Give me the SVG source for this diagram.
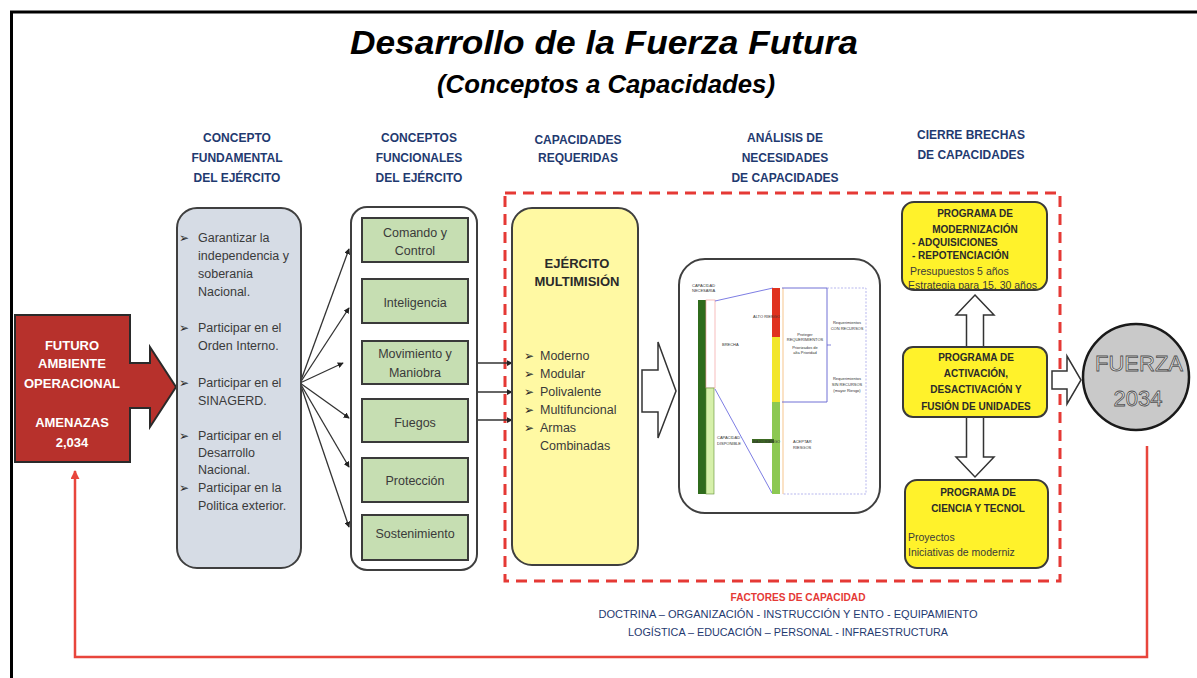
<svg xmlns="http://www.w3.org/2000/svg" width="1197" height="678" viewBox="0 0 1197 678">
<defs>
<style>
text{font-family:"Liberation Sans",Arial,sans-serif;}
.hd{font-size:12px;font-weight:bold;fill:#1F3A70;text-anchor:middle;}
.bt{font-size:12.5px;fill:#3A3A3A;}
.gt{font-size:12.5px;fill:#3A3A3A;text-anchor:middle;}
.bl{font-family:"DejaVu Sans",sans-serif;font-size:12px;font-weight:bold;fill:#2A2A2A;}
.yb{font-size:10px;font-weight:bold;fill:#2A2A2A;text-anchor:middle;}
.yl{font-size:10px;font-weight:bold;fill:#2A2A2A;}
.yn{font-size:10.5px;fill:#3A3A3A;}
.tiny{font-size:4px;fill:#333;}
.conn{stroke:#333;stroke-width:1.3;fill:none;}
.hollow{fill:#fff;stroke:#333;stroke-width:1.5;stroke-linejoin:miter;}
.gbox{fill:#C6DEB2;stroke:#3A3A3A;stroke-width:2;}
</style>
<marker id="ah" viewBox="0 0 8 8" refX="7" refY="4" markerWidth="6" markerHeight="6" markerUnits="userSpaceOnUse" orient="auto">
<path d="M0,0 L8,4 L0,8 Z" fill="#222"/>
</marker>
<marker id="rh" viewBox="0 0 10 10" refX="9" refY="5" markerWidth="9" markerHeight="9" markerUnits="userSpaceOnUse" orient="auto">
<path d="M0,0 L10,5 L0,10 Z" fill="#E8453C"/>
</marker>
</defs>
<rect x="0" y="0" width="1197" height="678" fill="#fff"/>
<!-- frame -->
<path d="M11.5,678 V12 H1197" fill="none" stroke="#000" stroke-width="3"/>

<!-- titles -->
<text x="604" y="54" text-anchor="middle" font-size="34" font-weight="bold" font-style="italic" fill="#000" textLength="508" lengthAdjust="spacingAndGlyphs">Desarrollo de la Fuerza Futura</text>
<text x="606" y="93" text-anchor="middle" font-size="25" font-weight="bold" font-style="italic" fill="#000" textLength="338" lengthAdjust="spacingAndGlyphs">(Conceptos a Capacidades)</text>

<!-- column headings -->
<g id="headings">
<text class="hd" x="237" y="142">CONCEPTO</text>
<text class="hd" x="237" y="162">FUNDAMENTAL</text>
<text class="hd" x="237" y="182">DEL EJÉRCITO</text>
<text class="hd" x="419" y="142">CONCEPTOS</text>
<text class="hd" x="419" y="162">FUNCIONALES</text>
<text class="hd" x="419" y="182">DEL EJÉRCITO</text>
<text class="hd" x="578" y="144">CAPACIDADES</text>
<text class="hd" x="578" y="162">REQUERIDAS</text>
<text class="hd" x="785" y="142">ANÁLISIS DE</text>
<text class="hd" x="785" y="162">NECESIDADES</text>
<text class="hd" x="785" y="182">DE CAPACIDADES</text>
<text class="hd" x="971" y="139">CIERRE BRECHAS</text>
<text class="hd" x="971" y="159">DE CAPACIDADES</text>
</g>

<!-- red dashed frame -->
<rect id="capacity-frame" x="505" y="193" width="555" height="388" fill="none" stroke="#E53935" stroke-width="3" stroke-dasharray="11,7"/>

<!-- connectors -->
<g id="connectors">
<line class="conn" x1="300" y1="383" x2="349" y2="249" marker-end="url(#ah)"/>
<line class="conn" x1="300" y1="383" x2="349" y2="308" marker-end="url(#ah)"/>
<line class="conn" x1="300" y1="383" x2="343" y2="363" marker-end="url(#ah)"/>
<line class="conn" x1="300" y1="383" x2="349" y2="418" marker-end="url(#ah)"/>
<line class="conn" x1="300" y1="383" x2="349" y2="467" marker-end="url(#ah)"/>
<line class="conn" x1="300" y1="383" x2="349" y2="527" marker-end="url(#ah)"/>
<line class="conn" x1="477" y1="363" x2="512" y2="363" marker-end="url(#ah)"/>
<line class="conn" x1="477" y1="392" x2="512" y2="392" marker-end="url(#ah)"/>
<line class="conn" x1="477" y1="420" x2="512" y2="420" marker-end="url(#ah)"/>
<polygon class="hollow" points="642,370 658,370 658,342 676,391 658,438 658,412 642,412"/>
<polygon class="hollow" points="975,295 994,315 983.5,315 983.5,457 994,457 975,477 956,457 966.5,457 966.5,315 956,315"/>
<polygon class="hollow" points="1052,371 1067,371 1067,356 1081,380 1067,404 1067,389 1052,389"/>
<polyline points="1147,446 1147,657 75,657 75,471" fill="none" stroke="#E8453C" stroke-width="2.5" marker-end="url(#rh)"/>
</g>

<!-- future environment -->
<g id="futuro">
<path d="M15,315 H130 V363 H150 V347 L176,387 L150,427 V408 H130 V462 H15 Z" fill="#B7312C" stroke="#2A2A2A" stroke-width="2"/>
<g font-size="13" font-weight="bold" fill="#fff" text-anchor="middle">
<text x="72" y="350">FUTURO</text>
<text x="72" y="368">AMBIENTE</text>
<text x="72" y="388">OPERACIONAL</text>
<text x="72" y="427">AMENAZAS</text>
<text x="72" y="447">2,034</text>
</g>
</g>

<!-- concepto fundamental -->
<g id="concepto-fundamental">
<rect x="177" y="208" width="124" height="360" rx="20" fill="#D6DCE5" stroke="#3F3F3F" stroke-width="2"/>
<text class="bl" x="179" y="241.5">➢</text>
<text class="bt" x="198" y="241.5">Garantizar la</text>
<text class="bt" x="198" y="259.5">independencia y</text>
<text class="bt" x="198" y="277.5">soberania</text>
<text class="bt" x="198" y="295.5">Nacional.</text>
<text class="bl" x="179" y="331.5">➢</text>
<text class="bt" x="198" y="331.5">Participar en el</text>
<text class="bt" x="198" y="349.5">Orden Interno.</text>
<text class="bl" x="179" y="386.5">➢</text>
<text class="bt" x="198" y="386.5">Participar en el</text>
<text class="bt" x="198" y="404.5">SINAGERD.</text>
<text class="bl" x="179" y="439.5">➢</text>
<text class="bt" x="198" y="439.5">Participar en el</text>
<text class="bt" x="198" y="456.5">Desarrollo</text>
<text class="bt" x="198" y="473.5">Nacional.</text>
<text class="bl" x="179" y="491.5">➢</text>
<text class="bt" x="198" y="491.5">Participar en la</text>
<text class="bt" x="198" y="509.5">Politica exterior.</text>
</g>

<!-- conceptos funcionales -->
<g id="conceptos-funcionales">
<rect x="351" y="207" width="126" height="363" rx="16" fill="#fff" stroke="#3F3F3F" stroke-width="2"/>
</g>
<g id="comando-control">
<rect class="gbox" x="362" y="218" width="106" height="44"/>
<text class="gt" x="415" y="236.5">Comando y</text>
<text class="gt" x="415" y="254.5">Control</text>
</g>
<g id="inteligencia">
<rect class="gbox" x="362" y="279" width="106" height="44"/>
<text class="gt" x="415" y="306.5">Inteligencia</text>
</g>
<g id="movimiento">
<rect class="gbox" x="362" y="341" width="106" height="43"/>
<text class="gt" x="415" y="357.5">Movimiento y</text>
<text class="gt" x="415" y="376.5">Maniobra</text>
</g>
<g id="fuegos">
<rect class="gbox" x="362" y="399" width="106" height="43"/>
<text class="gt" x="415" y="426.5">Fuegos</text>
</g>
<g id="proteccion">
<rect class="gbox" x="362" y="458" width="106" height="44"/>
<text class="gt" x="415" y="484.5">Protección</text>
</g>
<g id="sostenimiento">
<rect class="gbox" x="362" y="515" width="106" height="45"/>
<text class="gt" x="415" y="537.5">Sostenimiento</text>
</g>

<!-- ejercito multimision -->
<g id="ejercito-multimision">
<rect x="512" y="208" width="126" height="357" rx="20" fill="#FFF9A3" stroke="#3F3F3F" stroke-width="2"/>
<text x="577" y="267.5" font-size="13" font-weight="bold" fill="#2A2A2A" text-anchor="middle">EJÉRCITO</text>
<text x="577" y="285.5" font-size="13" font-weight="bold" fill="#2A2A2A" text-anchor="middle">MULTIMISIÓN</text>
<text class="bl" x="524" y="359.5">➢</text><text class="bt" x="540" y="359.5">Moderno</text>
<text class="bl" x="524" y="377.5">➢</text><text class="bt" x="540" y="377.5">Modular</text>
<text class="bl" x="524" y="395.5">➢</text><text class="bt" x="540" y="395.5">Polivalente</text>
<text class="bl" x="524" y="413.5">➢</text><text class="bt" x="540" y="413.5">Multifuncional</text>
<text class="bl" x="524" y="431.5">➢</text><text class="bt" x="540" y="431.5">Armas</text>
<text class="bt" x="540" y="449.5">Combinadas</text>
</g>

<!-- analisis chart -->
<g id="analisis">
<rect x="679" y="259" width="201" height="254" rx="26" fill="#fff" stroke="#3F3F3F" stroke-width="2"/>
<rect x="698" y="300" width="9" height="194" fill="#2F6B1C"/>
<rect x="706" y="300" width="9" height="88" fill="#fff" stroke="#F2A0A0" stroke-width="0.7"/>
<rect x="706" y="388" width="8" height="106" fill="#D6F0AA" stroke="#5E8E34" stroke-width="0.6"/>
<text class="tiny" x="692" y="287">CAPACIDAD</text>
<text class="tiny" x="692" y="292">NECESARIA</text>
<text class="tiny" x="722" y="346">BRECHA</text>
<text class="tiny" x="717" y="439">CAPACIDAD</text>
<text class="tiny" x="717" y="445">DISPONIBLE</text>
<line x1="715" y1="301" x2="773" y2="288" stroke="#6E6EE0" stroke-width="0.9"/>
<line x1="715" y1="389" x2="772" y2="493" stroke="#6E6EE0" stroke-width="0.9"/>
<rect x="772" y="288" width="8" height="49" fill="#E0321F"/>
<rect x="772" y="337" width="8" height="65" fill="#F2E62A"/>
<rect x="772" y="402" width="8" height="92" fill="#8CC852"/>
<line x1="783" y1="288" x2="783" y2="494" stroke="#F0A040" stroke-width="0.6"/>
<text class="tiny" x="753" y="318">ALTO RIESGO</text>
<rect x="752" y="439" width="22" height="4" fill="#3D6A22"/>
<text class="tiny" x="753" y="442.5" fill="#fff">BAJO RIESGO</text>
<path d="M782,288 H827 V402 H782" fill="none" stroke="#6060D0" stroke-width="0.9"/>
<line x1="827" y1="345" x2="831" y2="345" stroke="#6060D0" stroke-width="0.8"/>
<path d="M827,288 H866 V494 H783" fill="none" stroke="#9A9AE6" stroke-width="0.7" stroke-dasharray="2,1.5"/>
<text class="tiny" x="805" y="336" text-anchor="middle">Proteger</text>
<text class="tiny" x="805" y="341" text-anchor="middle">REQUERIMIENTOS</text>
<text class="tiny" x="805" y="349" text-anchor="middle">Priorizados de</text>
<text class="tiny" x="805" y="354" text-anchor="middle">alta Prioridad</text>
<text class="tiny" x="847" y="324" text-anchor="middle">Requerimientos</text>
<text class="tiny" x="847" y="330" text-anchor="middle">CON RECURSOS</text>
<text class="tiny" x="847" y="380" text-anchor="middle">Requerimientos</text>
<text class="tiny" x="847" y="386" text-anchor="middle">SIN RECURSOS</text>
<text class="tiny" x="847" y="392" text-anchor="middle">(mayor Riesgo)</text>
<text class="tiny" x="793" y="443">ACEPTAR</text>
<text class="tiny" x="793" y="449">RIESGOS</text>
</g>

<!-- programs -->
<g id="programa-modernizacion">
<rect x="902" y="202" width="145" height="88" rx="12" fill="#FFF22B" stroke="#3A3A3A" stroke-width="2"/>
<text class="yb" x="975" y="217">PROGRAMA DE</text>
<text class="yb" x="975" y="233">MODERNIZACIÓN</text>
<text class="yl" x="912" y="246">- ADQUISICIONES</text>
<text class="yl" x="912" y="259">- REPOTENCIACIÓN</text>
<text class="yn" x="910" y="275">Presupuestos 5 años</text>
<text class="yn" x="908" y="289">Estrategia para 15, 30 años</text>
</g>
<g id="programa-activacion">
<rect x="903" y="347" width="144" height="70" rx="10" fill="#FFF22B" stroke="#3A3A3A" stroke-width="2"/>
<text class="yb" x="976" y="361">PROGRAMA DE</text>
<text class="yb" x="976" y="377">ACTIVACIÓN,</text>
<text class="yb" x="976" y="393">DESACTIVACIÓN Y</text>
<text class="yb" x="976" y="410">FUSIÓN DE UNIDADES</text>
</g>
<g id="programa-ciencia">
<rect x="905" y="480" width="143" height="88" rx="12" fill="#FFF22B" stroke="#3A3A3A" stroke-width="2"/>
<text class="yb" x="978" y="496">PROGRAMA DE</text>
<text class="yb" x="978" y="512">CIENCIA Y TECNOL</text>
<text class="yn" x="908" y="541">Proyectos</text>
<text class="yn" x="908" y="556">Iniciativas de moderniz</text>
</g>

<!-- fuerza 2034 -->
<g id="fuerza-2034">
<circle cx="1136" cy="377" r="53" fill="#C9C9C9" stroke="#1A1A1A" stroke-width="2.5"/>
<g font-size="22" fill="#E4E4E4" stroke="#505050" stroke-width="0.8" text-anchor="middle">
<text x="1139" y="371">FUERZA</text>
<text x="1138" y="406">2034</text>
</g>
</g>

<!-- factores -->
<g id="factores">
<text x="798" y="601" text-anchor="middle" font-size="10.5" font-weight="bold" fill="#E53935" textLength="135" lengthAdjust="spacingAndGlyphs">FACTORES DE CAPACIDAD</text>
<text x="788" y="618" text-anchor="middle" font-size="11" fill="#1F3A70" textLength="379" lengthAdjust="spacingAndGlyphs">DOCTRINA – ORGANIZACIÓN - INSTRUCCIÓN Y ENTO - EQUIPAMIENTO</text>
<text x="788" y="636" text-anchor="middle" font-size="11" fill="#1F3A70" textLength="320" lengthAdjust="spacingAndGlyphs">LOGÍSTICA – EDUCACIÓN – PERSONAL - INFRAESTRUCTURA</text>
</g>
</svg>
